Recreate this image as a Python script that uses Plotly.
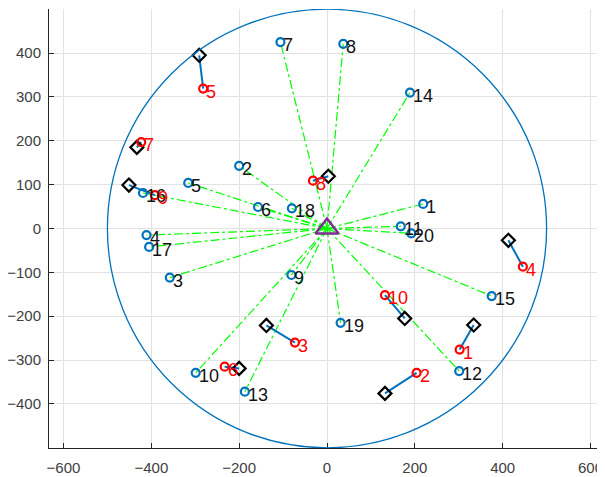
import plotly.graph_objects as go

# Users (blue circles), labeled 1..20
user_x = [219, -200, -358, -411, -316, -157, -106, 37, -81, -299,
          168, 301, -187, 189, 375, -419, -405, -80, 31, 192]
user_y = [56, 143, -112, -15, 104, 49, 425, 421, -106, -329,
          5, -325, -372, 310, -154, 81, -42, 46, -215, -11]
user_labels = [str(i) for i in range(1, 21)]

# UAV final positions (red circles), labeled 1..10
red_x = [302, 204, -73, 446, -282, -233, -423, -32, -392, 132]
red_y = [-276, -329, -260, -87, 319, -315, 197, 109, 76, -152]
red_labels = [str(i) for i in range(1, 11)]

# UAV start positions (black diamonds)
blk_x = [334, 132, -138, 413, -291, -200, -433, 3, -451, 177]
blk_y = [-220, -376, -221, -27, 395, -319, 185, 119, 99, -205]

# Base station (triangle) and coverage radius
bs_x = [0]
bs_y = [0]
radius = 500

x_ticks = [-600, -400, -200, 0, 200, 400, 600]
y_ticks = [-400, -300, -200, -100, 0, 100, 200, 300, 400]

fig = go.Figure()

# coverage circle
fig.add_shape(type="circle", xref="x", yref="y",
              x0=bs_x[0] - radius, x1=bs_x[0] + radius,
              y0=bs_y[0] - radius, y1=bs_y[0] + radius,
              line=dict(color="#0072BD", width=1.3), layer="above")

# green dash-dot links from base station to each user
gx, gy = [], []
for ux, uy in zip(user_x, user_y):
    gx += [bs_x[0], ux, None]
    gy += [bs_y[0], uy, None]
fig.add_trace(go.Scatter(x=gx, y=gy, mode="lines",
                         line=dict(color="#00FF00", width=1.2, dash="dashdot"),
                         hoverinfo="skip"))

# users
fig.add_trace(go.Scatter(x=user_x, y=user_y, mode="markers",
                         marker=dict(symbol="circle-open", size=8, color="#0072BD",
                                     line=dict(width=2.2, color="#0072BD"))))

# blue trajectories from start to end
tx, ty = [], []
for x0, y0, x1, y1 in zip(blk_x, blk_y, red_x, red_y):
    tx += [x0, x1, None]
    ty += [y0, y1, None]
fig.add_trace(go.Scatter(x=tx, y=ty, mode="lines",
                         line=dict(color="#0072BD", width=2), hoverinfo="skip"))

# start diamonds
fig.add_trace(go.Scatter(x=blk_x, y=blk_y, mode="markers",
                         marker=dict(symbol="diamond-open", size=10, color="black",
                                     line=dict(width=2.2, color="black"))))

# end red circles
fig.add_trace(go.Scatter(x=red_x, y=red_y, mode="markers",
                         marker=dict(symbol="circle-open", size=8, color="#FF0000",
                                     line=dict(width=2.2, color="#FF0000"))))

# base station triangle
fig.add_trace(go.Scatter(x=bs_x, y=bs_y, mode="markers",
                         marker=dict(symbol="triangle-up-open", size=20, color="#7E2F8E",
                                     line=dict(width=2.5, color="#7E2F8E"))))

annotations = []
for x, y, t in zip(user_x, user_y, user_labels):
    annotations.append(dict(x=x, y=y, text=t, showarrow=False, xanchor="left",
                            yanchor="middle", xshift=1, yshift=-3,
                            font=dict(family="Liberation Sans", size=18, color="#111111")))
for x, y, t in zip(red_x, red_y, red_labels):
    annotations.append(dict(x=x, y=y, text=t, showarrow=False, xanchor="left",
                            yanchor="middle", xshift=1, yshift=-3,
                            font=dict(family="Liberation Sans", size=18, color="#FF0000")))

axis_common = dict(showline=True, linecolor="#262626", linewidth=1, mirror=False,
                   zeroline=False, showgrid=True, gridcolor="#e2e2e2", gridwidth=1,
                   ticks="inside", ticklen=5, tickcolor="#262626",
                   tickfont=dict(family="Liberation Sans", size=15, color="#404040"))

# page body has an 8px margin, so the figure is sized/margined to compensate
fig.update_layout(
    width=597, height=469,
    margin=dict(l=41, r=0, t=1, b=29),
    paper_bgcolor="white", plot_bgcolor="white",
    showlegend=False,
    annotations=annotations,
    xaxis=dict(range=[-633, 633], tickvals=x_ticks, ticklabelstandoff=6, **axis_common),
    yaxis=dict(range=[-500.5, 500.5], tickvals=y_ticks, ticklabelstandoff=4, **axis_common),
)

fig.write_html("out.html")
